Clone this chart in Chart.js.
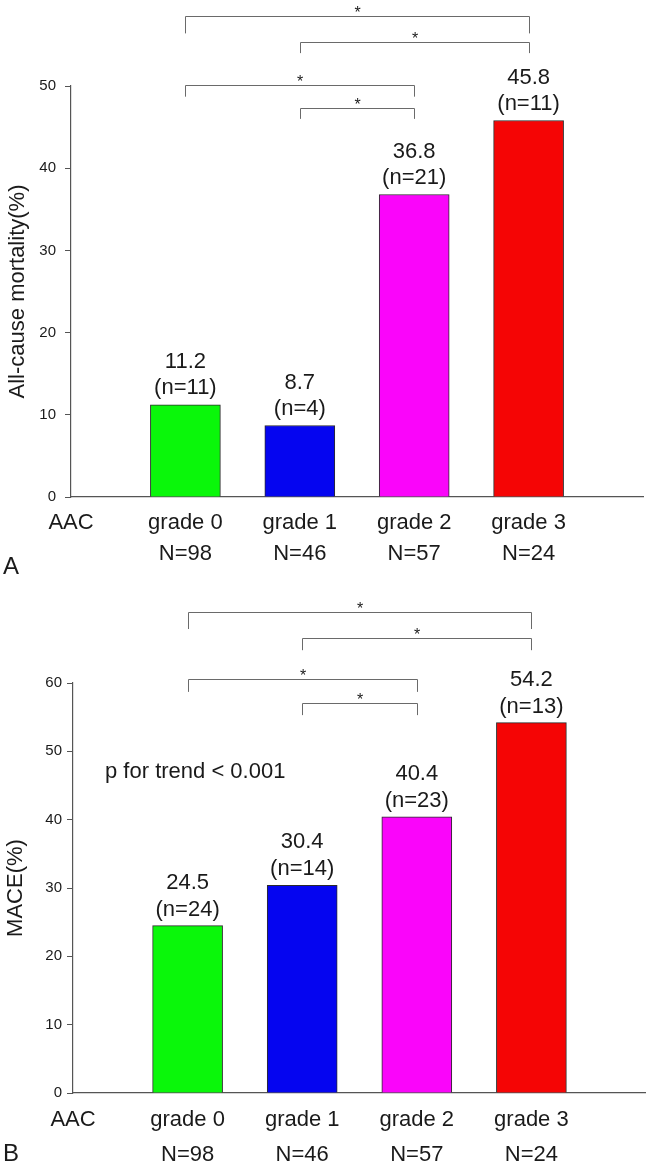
<!DOCTYPE html>
<html>
<head>
<meta charset="utf-8">
<script src="https://cdn.jsdelivr.net/npm/chart.js@4.4.1/dist/chart.umd.min.js"></script>
<style>
  html, body { margin: 0; padding: 0; background: #ffffff; }
  #wrap { position: relative; width: 646px; height: 1164px; }
  canvas { position: absolute; left: 0; }
</style>
</head>
<body>
<div id="wrap">
  <canvas id="cA" width="646" height="582" style="top:0px"></canvas>
  <canvas id="cB" width="646" height="582" style="top:582px"></canvas>
</div>
<script>
// ---------- data ----------
const groupLabel = 'AAC';
const categories = ['grade 0', 'grade 1', 'grade 2', 'grade 3'];
const groupSizes = ['N=98', 'N=46', 'N=57', 'N=24'];
const barColors = ['#0af70a', '#0505f0', '#fa05fa', '#f50505'];

const mortalityValues = [11.2, 8.7, 36.8, 45.8];
const mortalityCounts = [11, 4, 21, 11];
const mortalityTicks = [0, 10, 20, 30, 40, 50];

const maceValues = [24.5, 30.4, 40.4, 54.2];
const maceCounts = [24, 14, 23, 13];
const maceTicks = [0, 10, 20, 30, 40, 50, 60];

// significance brackets: [fromCategory, toCategory, lineLevel, legEnd] (data units)
const mortalityBrackets = [
  [0, 3, 58.5, 56.4],
  [1, 3, 55.35, 54.0],
  [0, 2, 50.1, 48.7],
  [1, 2, 47.3, 46.0]
];
const maceBrackets = [
  [0, 3, 70.4, 67.9],
  [1, 3, 66.6, 64.8],
  [0, 2, 60.6, 58.7],
  [1, 2, 57.1, 55.3]
];

const FONT = "'Liberation Sans', Arial, sans-serif";
const TEXT = '#1a1a1a';
const AXIS = '#555555';

function makeChart(id, cfg) {
  const xLabels = [[groupLabel, '']]
    .concat(categories.map((c, i) => [c, groupSizes[i]]))
    .concat(['']);
  const data = [null].concat(cfg.values).concat([null]);

  const overlay = {
    id: 'overlay_' + id,
    afterDatasetsDraw(chart) {
      const ctx = chart.ctx;
      const meta = chart.getDatasetMeta(0);
      const xs = chart.scales.x, ys = chart.scales.y;
      ctx.save();
      // value labels
      ctx.fillStyle = TEXT;
      ctx.font = '22px ' + FONT;
      ctx.textAlign = 'center';
      ctx.textBaseline = 'middle';
      cfg.values.forEach((v, i) => {
        const el = meta.data[i + 1];
        ctx.fillText(v.toFixed(1), el.x, el.y - cfg.lab1);
        ctx.fillText('(n=' + cfg.counts[i] + ')', el.x, el.y - cfg.lab2);
      });
      // brackets
      ctx.strokeStyle = '#6a6a6a';
      ctx.lineWidth = 1;
      ctx.font = '16px ' + FONT;
      ctx.textBaseline = 'alphabetic';
      cfg.brackets.forEach(b => {
        const x1 = Math.round(xs.getPixelForValue(b[0] + 1)) + 0.5;
        const x2 = Math.round(xs.getPixelForValue(b[1] + 1)) + 0.5;
        const yl = Math.round(ys.getPixelForValue(b[2])) + 0.5;
        const ye = ys.getPixelForValue(b[3]);
        ctx.beginPath();
        ctx.moveTo(x1, ye);
        ctx.lineTo(x1, yl);
        ctx.lineTo(x2, yl);
        ctx.lineTo(x2, ye);
        ctx.stroke();
        ctx.fillStyle = TEXT;
        ctx.fillText('*', (x1 + x2) / 2, yl + 1);
      });
      // extra text
      if (cfg.note) {
        ctx.font = '22px ' + FONT;
        ctx.textAlign = 'left';
        ctx.textBaseline = 'middle';
        ctx.fillText(cfg.note, chart.chartArea.left + 32, ys.getPixelForValue(cfg.noteLevel));
      }
      // panel letter
      ctx.font = '24px ' + FONT;
      ctx.textAlign = 'left';
      ctx.textBaseline = 'middle';
      ctx.fillStyle = TEXT;
      ctx.fillText(cfg.panel, 3, cfg.panelY);
      ctx.restore();
    }
  };

  return new Chart(document.getElementById(id), {
    type: 'bar',
    data: {
      labels: xLabels,
      datasets: [{
        data: data,
        backgroundColor: [null].concat(barColors).concat([null]),
        borderColor: '#2b2b2b',
        borderWidth: 1,
        barThickness: 70
      }]
    },
    options: {
      responsive: false,
      devicePixelRatio: 1,
      animation: false,
      layout: { padding: { top: cfg.padTop, right: cfg.padRight, left: 0, bottom: 0 } },
      plugins: { legend: { display: false }, tooltip: { enabled: false } },
      scales: {
        x: {
          type: 'category',
          offset: false,
          grid: { display: true, drawOnChartArea: false, drawTicks: false },
          border: { display: true, color: AXIS, width: 1.2 },
          ticks: {
            autoSkip: false, maxRotation: 0, minRotation: 0,
            padding: cfg.xPad,
            color: TEXT,
            font: { family: FONT, size: 22, lineHeight: cfg.xLH / 22 }
          },
          afterFit(s) { s.height = cfg.xHeight; s.paddingRight = 0; s.paddingLeft = 0; }
        },
        y: {
          min: 0,
          max: cfg.ticks[cfg.ticks.length - 1],
          afterBuildTicks(s) { s.ticks = cfg.ticks.map(v => ({ value: v })); },
          grid: { drawOnChartArea: false, drawTicks: true, tickLength: 6, color: AXIS },
          border: { display: true, color: AXIS, width: 1.2 },
          ticks: {
            padding: cfg.yPad,
            color: TEXT,
            font: { family: FONT, size: cfg.yTickSize }
          },
          title: {
            display: true,
            text: cfg.title,
            color: TEXT,
            font: { family: FONT, size: 22, lineHeight: 1.2 },
            padding: { top: cfg.titlePad, bottom: 0 }
          },
          afterFit(s) { s.width = cfg.yWidth; }
        }
      }
    },
    plugins: [overlay]
  });
}

makeChart('cA', {
  values: mortalityValues, counts: mortalityCounts, ticks: mortalityTicks,
  brackets: mortalityBrackets, title: 'All-cause mortality(%)',
  padTop: 86, padRight: 3, xHeight: 85, yWidth: 71,
  xPad: 10.5, xLH: 31, yPad: 9, yTickSize: 15, titlePad: 5,
  lab1: 43, lab2: 17, panel: 'A', panelY: 567
});

makeChart('cB', {
  values: maceValues, counts: maceCounts, ticks: maceTicks,
  brackets: maceBrackets, title: 'MACE(%)',
  padTop: 101, padRight: 0, xHeight: 71, yWidth: 73,
  xPad: 9, xLH: 35, yPad: 5, yTickSize: 15, titlePad: 3,
  lab1: 43, lab2: 16, panel: 'B', panelY: 572,
  note: 'p for trend < 0.001', noteLevel: 47.0
});
</script>
</body>
</html>
